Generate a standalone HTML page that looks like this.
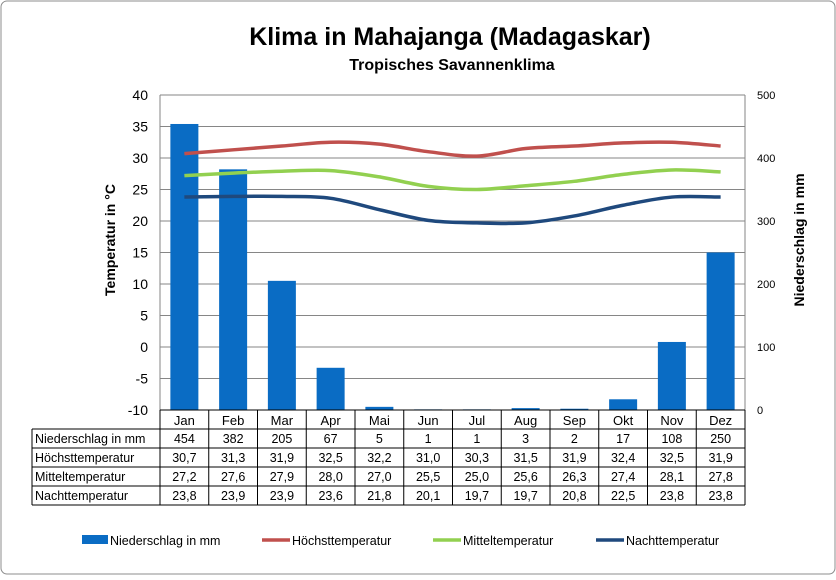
<!DOCTYPE html>
<html><head><meta charset="utf-8"><style>
body{margin:0;background:#fff;font-family:"Liberation Sans",Arial,sans-serif}
svg text{font-family:"Liberation Sans",Arial,sans-serif}
</style></head><body>
<svg id="c" width="836" height="575" viewBox="0 0 836 575">
<rect x="1" y="1" width="834" height="573" rx="6" fill="#fff" stroke="#8c8c8c"/>
<text x="450" y="45" text-anchor="middle" font-size="25" font-weight="bold">Klima in Mahajanga (Madagaskar)</text>
<text x="452" y="70" text-anchor="middle" font-size="16" font-weight="bold">Tropisches Savannenklima</text>
<text transform="translate(115,240) rotate(-90)" text-anchor="middle" font-size="14" font-weight="bold">Temperatur in °C</text>
<text transform="translate(804,240) rotate(-90)" text-anchor="middle" font-size="14" font-weight="bold">Niederschlag in mm</text>
<g id="g"></g>
</svg>
<script>
const months=["Jan","Feb","Mar","Apr","Mai","Jun","Jul","Aug","Sep","Okt","Nov","Dez"];
const rain=[454,382,205,67,5,1,1,3,2,17,108,250];
const tmax=[30.7,31.3,31.9,32.5,32.2,31.0,30.3,31.5,31.9,32.4,32.5,31.9];
const tmean=[27.2,27.6,27.9,28.0,27.0,25.5,25.0,25.6,26.3,27.4,28.1,27.8];
const tmin=[23.8,23.9,23.9,23.6,21.8,20.1,19.7,19.7,20.8,22.5,23.8,23.8];
const tempTicks=[-10,-5,0,5,10,15,20,25,30,35,40];
const rainTicks=[0,100,200,300,400,500];
const L=160,R=745,T=95,B=410,cw=(R-L)/12;
const yT=v=>B-(v+10)/50*(B-T);
const yR=v=>B-v/500*(B-T);
const xC=i=>L+cw*(i+0.5);
const g=document.getElementById('g');
const NS="http://www.w3.org/2000/svg";
function el(t,a,txt){const e=document.createElementNS(NS,t);for(const k in a)e.setAttribute(k,a[k]);if(txt!=null)e.textContent=txt;g.appendChild(e);return e;}
tempTicks.forEach(v=>{
 const l=el('line',{x1:L,x2:R,y1:yT(v),y2:yT(v),stroke:'#868686','stroke-width':1});
 
 const t=el('text',{x:148,y:yT(v)+5,'text-anchor':'end','font-size':14},v);
 
});
rainTicks.forEach(v=>{
 const t=el('text',{x:757,y:yR(v)+4,'font-size':11},v);
 
});
el('line',{x1:L,x2:L,y1:T,y2:B,stroke:'#868686'});
el('line',{x1:R,x2:R,y1:T,y2:B,stroke:'#868686'});
rain.forEach((v,i)=>{
 const b=el('rect',{x:xC(i)-14,y:yR(v),width:28,height:B-yR(v),fill:'#0a6cc4'});
 
});
function smooth(arr){
 const p=arr.map((v,i)=>[xC(i),yT(v)]);let d='M'+p[0][0]+','+p[0][1];
 for(let i=0;i<p.length-1;i++){const p0=p[i-1]||p[i],p1=p[i],p2=p[i+1],p3=p[i+2]||p2;
  d+=` C${p1[0]+(p2[0]-p0[0])/6},${p1[1]+(p2[1]-p0[1])/6} ${p2[0]-(p3[0]-p1[0])/6},${p2[1]-(p3[1]-p1[1])/6} ${p2[0]},${p2[1]}`;}
 return d;}
[[tmax,'#c0504d','line-hoechsttemperatur'],[tmean,'#92d050','line-mitteltemperatur'],[tmin,'#1f497d','line-nachttemperatur']].forEach(s=>{
 const p=el('path',{d:smooth(s[0]),fill:'none',stroke:s[1],'stroke-width':3.5});
 
});
// table
const rows=[["Niederschlag in mm",rain.map(String)],["Höchsttemperatur",tmax.map(v=>v.toFixed(1).replace('.',','))],["Mitteltemperatur",tmean.map(v=>v.toFixed(1).replace('.',','))],["Nachttemperatur",tmin.map(v=>v.toFixed(1).replace('.',','))]];
const rh=19,tl=32;
months.forEach((m,i)=>{const t=el('text',{x:xC(i),y:B+15,'text-anchor':'middle','font-size':13},m);});
for(let i=0;i<=12;i++)el('line',{x1:L+cw*i,x2:L+cw*i,y1:B,y2:B+rh*5,stroke:'#000','stroke-width':1});
el('line',{x1:tl,x2:tl,y1:B+rh,y2:B+rh*5,stroke:'#000'});
for(let r=1;r<=5;r++)el('line',{x1:tl,x2:R,y1:B+rh*r,y2:B+rh*r,stroke:'#000'});
el('line',{x1:L,x2:R,y1:B,y2:B,stroke:'#000'});
rows.forEach((row,r)=>{
 const y=B+rh*(r+1)+14;
 const h=el('text',{x:tl+3,y:y,'font-size':12.5},row[0]);
 row[1].forEach((v,i)=>{const t=el('text',{x:xC(i),y:y,'text-anchor':'middle','font-size':12.5},v);});
});
// legend
const leg=[["Niederschlag in mm",'#0a6cc4',82,1],["Höchsttemperatur",'#c0504d',262,0],["Mitteltemperatur",'#92d050',433,0],["Nachttemperatur",'#1f497d',596,0]];
leg.forEach(l=>{
 if(l[3])el('rect',{x:l[2],y:535,width:26,height:9,fill:l[1]});
 else el('line',{x1:l[2],x2:l[2]+28,y1:540,y2:540,stroke:l[1],'stroke-width':3.5});
 const t=el('text',{x:l[2]+(l[3]?28:30),y:545,'font-size':12.5},l[0]);
 
});
</script>
</body></html>
